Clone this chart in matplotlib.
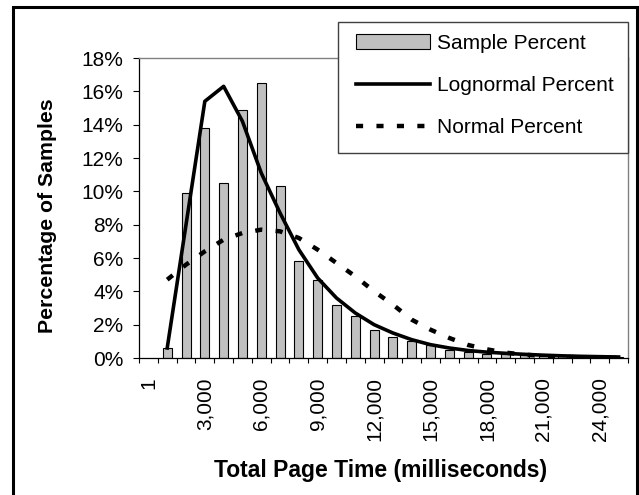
#!/usr/bin/env python3
"""Page time histogram with lognormal and normal fit curves."""

import numpy as np
import matplotlib.pyplot as plt
from matplotlib.patches import Rectangle

plt.rcParams["font.family"] = ["Liberation Sans", "DejaVu Sans"]

# bins of 1,000 ms; first bin is labelled "1"
bin_starts = [1] + [1000 * k for k in range(1, 26)]
tick_every = 3

# percentages (first bin has no data)
sample_pct = [np.nan, 0.6, 9.9, 13.8, 10.5, 14.9, 16.5, 10.3, 5.8, 4.7, 3.2, 2.5, 1.7,
              1.26, 1.0, 0.76, 0.5, 0.35, 0.25, 0.22, 0.18, 0.14, 0.1, 0.08, 0.06, 0.05]
lognormal_pct = [np.nan, 0.6, 8.0, 15.4, 16.3, 14.2, 11.1, 8.7, 6.5, 4.8, 3.6, 2.7, 2.0,
                 1.5, 1.1, 0.8, 0.6, 0.45, 0.35, 0.28, 0.22, 0.17, 0.13, 0.1, 0.08, 0.06]
normal_pct = [np.nan, 4.7, 5.6, 6.4, 7.1, 7.5, 7.7, 7.6, 7.2, 6.5, 5.7, 4.9, 4.0,
              3.2, 2.3, 1.7, 1.2, 0.78, 0.52, 0.32, 0.2, 0.12, 0.07, 0.04, 0.02, 0.01]

W, H = 639, 495
fig = plt.figure(figsize=(W / 100, H / 100), dpi=100)
ax = fig.add_axes([139 / W, 1 - 358 / H, (628 - 139) / W, (358 - 58) / H])

x = np.arange(len(bin_starts))
bars = ax.bar(x, sample_pct, width=0.48, color="#c0c0c0", edgecolor="black",
              linewidth=0.8, zorder=2)
(logn_line,) = ax.plot(x, lognormal_pct, color="black", lw=2.6, zorder=3)
(norm_line,) = ax.plot(x, normal_pct, color="black", lw=3.2, ls=(0, (1.6, 3.0)), zorder=3)

ax.set_xlim(-0.5, len(bin_starts) - 0.5)
ax.set_ylim(0, 18)
ax.set_yticks(range(0, 19, 2))
ax.set_yticklabels([f"{v}%" for v in range(0, 19, 2)])
ax.tick_params(axis="y", direction="out", length=4.3, width=0.8, pad=7, labelsize=15)

# tick marks on bin edges, labels on every third bin centre
ax.set_xticks(np.arange(-0.5, len(bin_starts), 1))
ax.set_xticklabels([])
ax.tick_params(axis="x", which="major", direction="out", length=3.6, width=0.8)
ax.set_xticks(x[::tick_every], minor=True)
ax.set_xticklabels([f"{v:,}" for v in bin_starts[::tick_every]], minor=True,
                   rotation=90, va="top", ha="center")
ax.tick_params(axis="x", which="minor", length=0, pad=13.7, labelsize=15)

for side in ("top", "right"):
    ax.spines[side].set_color("#808080")
    ax.spines[side].set_linewidth(1)
for side in ("left", "bottom"):
    ax.spines[side].set_linewidth(0.9)

fig.text(48 / W, 1 - 216 / H, "Percentage of Samples", rotation=90,
         ha="center", va="center", fontsize=15.3, fontweight="bold")
fig.text(381 / W, 1 - 470 / H, "Total Page Time (milliseconds)",
         ha="center", va="center", fontsize=16.5, fontweight="bold")

# legend box drawn by hand so it sits where the original one does
fig.patches.append(Rectangle((338 / W, 1 - 153 / H), (628 - 338) / W, (153 - 22) / H,
                             transform=fig.transFigure, facecolor="white",
                             edgecolor="#404040", linewidth=1, zorder=4))
leg = fig.legend([bars, logn_line, norm_line],
                 ["Sample Percent", "Lognormal Percent", "Normal Percent"],
                 loc="upper left", bbox_to_anchor=(356 / W, 1 - 33.6 / H),
                 borderaxespad=0, borderpad=0, frameon=False, fontsize=15,
                 handlelength=3.56, handleheight=0.7, handletextpad=0.34,
                 labelspacing=1.12)
leg.set_zorder(5)

fig.patches.append(Rectangle((13 / W, -0.02), (637 - 13) / W, 1.02 - 7 / H,
                             transform=fig.transFigure, fill=False,
                             edgecolor="black", linewidth=2.2))

fig.savefig("out.png", dpi=100)
